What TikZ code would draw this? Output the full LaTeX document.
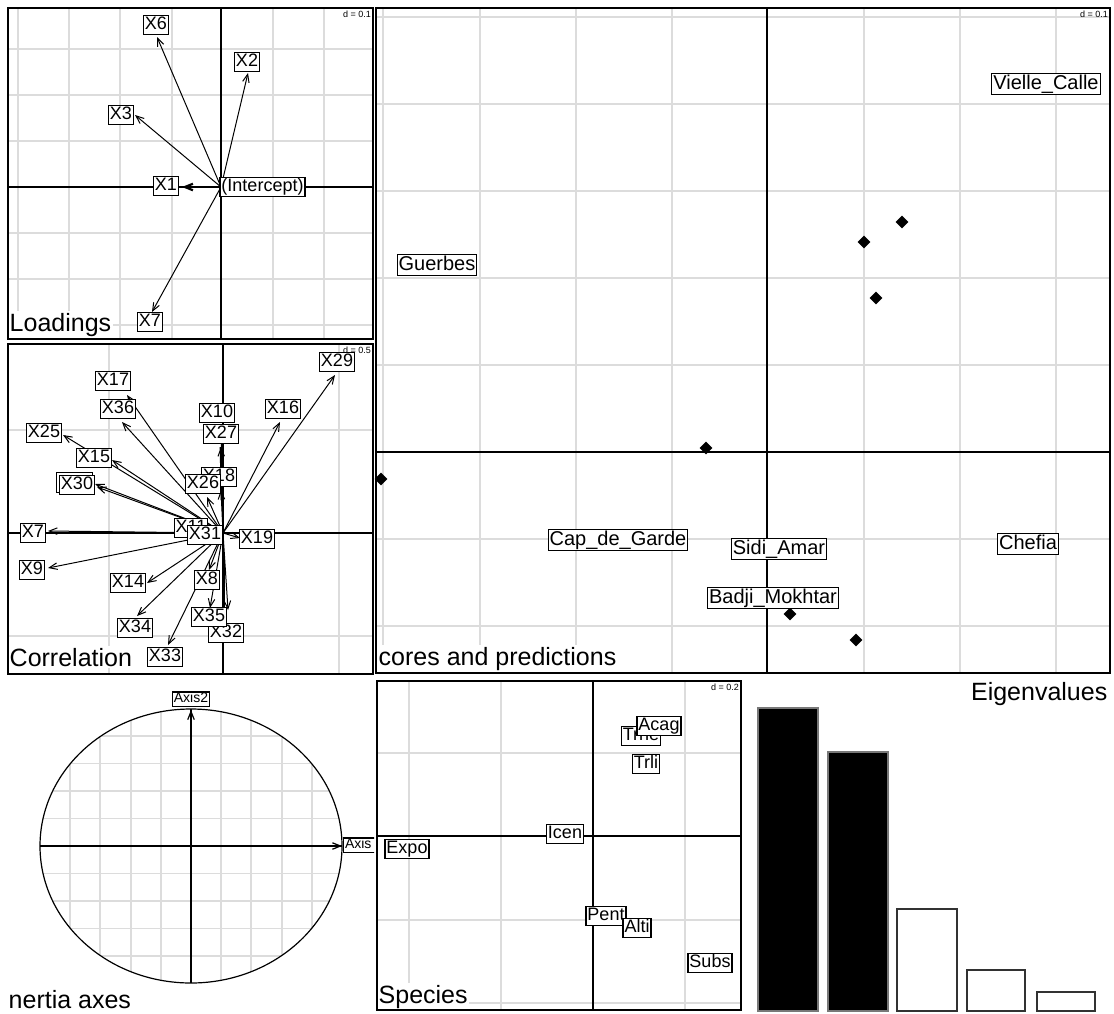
\documentclass[tikz,border=0pt]{standalone}
\usepackage{fontspec}
\setmainfont{Liberation Sans}
\usetikzlibrary{arrows.meta,shapes.geometric}
\definecolor{gridc}{RGB}{220,220,220}
\definecolor{bargray}{RGB}{120,120,120}
\definecolor{bardark}{RGB}{50,50,50}
\begin{document}
\begin{tikzpicture}[x=1pt,y=-1pt,
  frame/.style={draw=black,line width=1.2pt},
  gridl/.style={draw=gridc,line width=1.6pt},
  axisl/.style={draw=black,line width=1.2pt},
  lab/.style={draw=black,fill=white,line width=1.1pt,inner xsep=1.5pt,inner ysep=1.5pt,text height=13pt,text depth=3.8pt,font=\fontsize{18}{18}\selectfont},
  slab/.style={lab,text height=14.4pt,text depth=4.2pt,font=\fontsize{20}{20}\selectfont},
  alab/.style={lab,text height=10pt,text depth=2.5pt,font=\fontsize{14}{14}\selectfont,inner ysep=0.8pt},
  ttl/.style={fill=white,inner sep=1.5pt,font=\fontsize{25}{25}\selectfont},
  dtxt/.style={inner sep=0pt,font=\fontsize{9}{9}\selectfont},
  arr/.style={-{Straight Barb[length=8pt,width=6.5pt]},line width=1pt},
  pt/.style={diamond,fill=black,inner sep=0pt,minimum size=13pt},
  bfill/.style={fill=black,draw=bargray,line width=1.1pt},
  bempty/.style={fill=white,draw=bardark,line width=1.3pt}
]
\path[use as bounding box,fill=white] (0,0) rectangle (1114,1013);

% ================= Loadings =================
\foreach \x in {18,69,120,172,273,324} \draw[gridl] (\x,8) -- (\x,339);
\foreach \y in {49,95,141,233,279,325} \draw[gridl] (8,\y) -- (373,\y);
\draw[axisl] (221,8) -- (221,339);
\draw[axisl] (8,187) -- (373,187);
\coordinate (oL) at (221,187);
\foreach \n/\x/\y in {X6/157/37, X2/248/73, X3/135/115, X7/152/312}{
  \coordinate (l\n) at (\x,\y);
  \draw[arr] (oL) -- (l\n);
}
\coordinate (lX1) at (182,187);
\draw[arr,line width=2.2pt] (oL) -- (lX1);
\node[lab] (LX6) at (156,25) {X6};
\node[lab] (LX2) at (247,62) {X2};
\node[lab] (LX3) at (121,115) {X3};
\node[lab] (LX1) at (166,186) {X1};
\node[lab] (LInt) at (262.5,187) {(Intercept)};
\node[lab] (LX7) at (150,322) {X7};
\node[dtxt,anchor=north east] (dL) at (371,11) {d = 0.1};
\node[ttl,anchor=base west] (tL) at (8,331) {Loadings};
\draw[frame] (8,8) rectangle (373,339);

% ================= Correlation =================
\foreach \x in {109,339} \draw[gridl] (\x,344) -- (\x,674);
\foreach \y in {430,636} \draw[gridl] (8,\y) -- (373,\y);
\draw[axisl] (223,344) -- (223,674);
\draw[axisl] (8,533) -- (373,533);
\node[dtxt,anchor=north east] (dC) at (371,347) {d = 0.5};
\coordinate (oC) at (223,533);
\foreach \n/\x/\y in {X29/335/375, X16/280/422, X17/127/395, X36/122/422, X25/63/435,
  X15/112/460, X20/95/484, X30/97/487, X10/221/424, X27/221/447, X18/221/490,
  X26/207/497, X7/48/531, X11/196/532, X19/240/538, X9/48/568, X14/147/583,
  X34/137/616, X33/168/645, X8/209/570, X35/210/608, X32/228/610}{
  \coordinate (c\n) at (\x,\y);
  \draw[arr] (oC) -- (c\n);
}
\draw[line width=2.6pt] (221,447) -- (222,500);
\draw[line width=2.2pt] (224,560) -- (224,620);
\draw[line width=2pt] (100,533) -- (200,533);
\node[lab] (CX7) at (33,533) {X7};
\node[lab] (CX8) at (207,580) {X8};
\node[lab] (CX9) at (32,570) {X9};
\node[lab] (CX10) at (217,413) {X10};
\node[lab] (CX11) at (191,528) {X11};
\node[lab] (CX14) at (128,583) {X14};
\node[lab] (CX15) at (94,458) {X15};
\node[lab] (CX16) at (283,409) {X16};
\node[lab] (CX17) at (113,381) {X17};
\node[lab] (CX18) at (219,477) {X18};
\node[lab] (CX19) at (257,539) {X19};
\node[lab,minimum width=36pt,minimum height=20pt] (CX20) at (74.5,482.5) {};
\node[lab] (CX25) at (44,433) {X25};
\node[lab] (CX26) at (203,484) {X26};
\node[lab] (CX27) at (221,434) {X27};
\node[lab] (CX29) at (337,362) {X29};
\node[lab] (CX30) at (77,485) {X30};
\node[lab] (CX31) at (205,535) {X31};
\node[lab] (CX32) at (226,633) {X32};
\node[lab] (CX33) at (165,657) {X33};
\node[lab] (CX34) at (135,628) {X34};
\node[lab] (CX35) at (209,617) {X35};
\node[lab] (CX36) at (118,409) {X36};
\node[ttl,anchor=base west] (tC) at (8,666) {Correlation};
\draw[frame] (8,344) rectangle (373,674);

% ================= Scores and predictions =================
\foreach \x in {383,480,576,672,864,960,1056} \draw[gridl] (\x,8) -- (\x,673);
\foreach \y in {17,104,191,278,365,539,626} \draw[gridl] (376,\y) -- (1110,\y);
\draw[axisl] (767,8) -- (767,673);
\draw[axisl] (376,452) -- (1110,452);
\node[pt] (p1) at (902,222) {};
\node[pt] (p2) at (864,242) {};
\node[pt] (p3) at (876,298) {};
\node[pt] (p4) at (706,448) {};
\node[pt] (p5) at (381,479) {};
\node[pt] (p6) at (790,614) {};
\node[pt] (p7) at (856,640) {};
\node[slab] (sVC) at (1046,84) {Vielle\_Calle};
\node[slab] (sGu) at (437,265) {Guerbes};
\node[slab] (sCG) at (618,540) {Cap\_de\_Garde};
\node[slab] (sSA) at (779,549) {Sidi\_Amar};
\node[slab] (sCh) at (1028,544) {Chefia};
\node[slab] (sBM) at (773,598) {Badji\_Mokhtar};
\node[dtxt,anchor=north east] (dS) at (1108,11) {d = 0.1};
\node[ttl,anchor=base west] (tS) at (377,665) {cores and predictions};
\draw[frame] (376,8) rectangle (1110,673);

% ================= Inertia axes =================
\begin{scope}
  \clip (0,680) rectangle (374,1013);
  \begin{scope}
    \clip (191,846) ellipse [x radius=151, y radius=137];
    \foreach \x in {70,100,131,161,221,251,282,312} \draw[gridl] (\x,700) -- (\x,990);
    \foreach \y in {736,763.5,791,818.5,873.5,901,928.5,956} \draw[gridl] (30,\y) -- (350,\y);
  \end{scope}
  \draw[line width=1.2pt] (191,846) ellipse [x radius=151, y radius=137];
  \draw[axisl] (40,846) -- (342,846);
  \draw[axisl] (191,709) -- (191,983);
  \coordinate (oI) at (191,846);
  \coordinate (iA1) at (342,846);
  \coordinate (iA2) at (191,710);
  \draw[line width=2.6pt] (267,846) -- (336,846);
  \draw[arr,line width=1.2pt] (oI) -- (iA1);
  \draw[arr,line width=1.2pt] (oI) -- (iA2);
  \draw[line width=2.6pt] (191,712) -- (191,720);
  \node[alab] (IA2) at (191,699) {Axis2};
  \node[alab,anchor=west,text width=34pt,align=left] (IA1) at (343,845) {Axis};
\end{scope}
\node[ttl,anchor=base west,fill=none] (tI) at (7,1008) {nertia axes};

% ================= Species =================
\foreach \x in {409,501,685} \draw[gridl] (\x,681) -- (\x,1010);
\foreach \y in {753,920,1003} \draw[gridl] (377,\y) -- (741,\y);
\draw[axisl] (593,681) -- (593,1010);
\draw[axisl] (377,836) -- (741,836);
\node[lab] (spTrne) at (641,736) {Trne};
\node[lab] (spAcag) at (659,726) {Acag};
\node[lab] (spTrli) at (646,764) {Trli};
\node[lab] (spIcen) at (565,834) {Icen};
\node[lab] (spExpo) at (407,849) {Expo};
\node[lab] (spPent) at (606,916) {Pent};
\node[lab] (spAlti) at (637,928) {Alti};
\node[lab] (spSubs) at (710,963) {Subs};
\node[dtxt,anchor=north east] (dSp) at (739,684) {d = 0.2};
\node[ttl,anchor=base west] (tSp) at (377,1003) {Species};
\draw[frame] (377,681) rectangle (741,1010);

% ================= Eigenvalues =================
\draw[bfill] (758,708) rectangle (818,1011);
\draw[bfill] (828,752) rectangle (888,1011);
\draw[bempty] (897,909) rectangle (957,1011);
\draw[bempty] (967,970) rectangle (1025,1011);
\draw[bempty] (1037,992) rectangle (1095,1011);
\node[ttl,anchor=base east,fill=none] (tE) at (1109,700) {Eigenvalues};
\end{tikzpicture}
\end{document}
